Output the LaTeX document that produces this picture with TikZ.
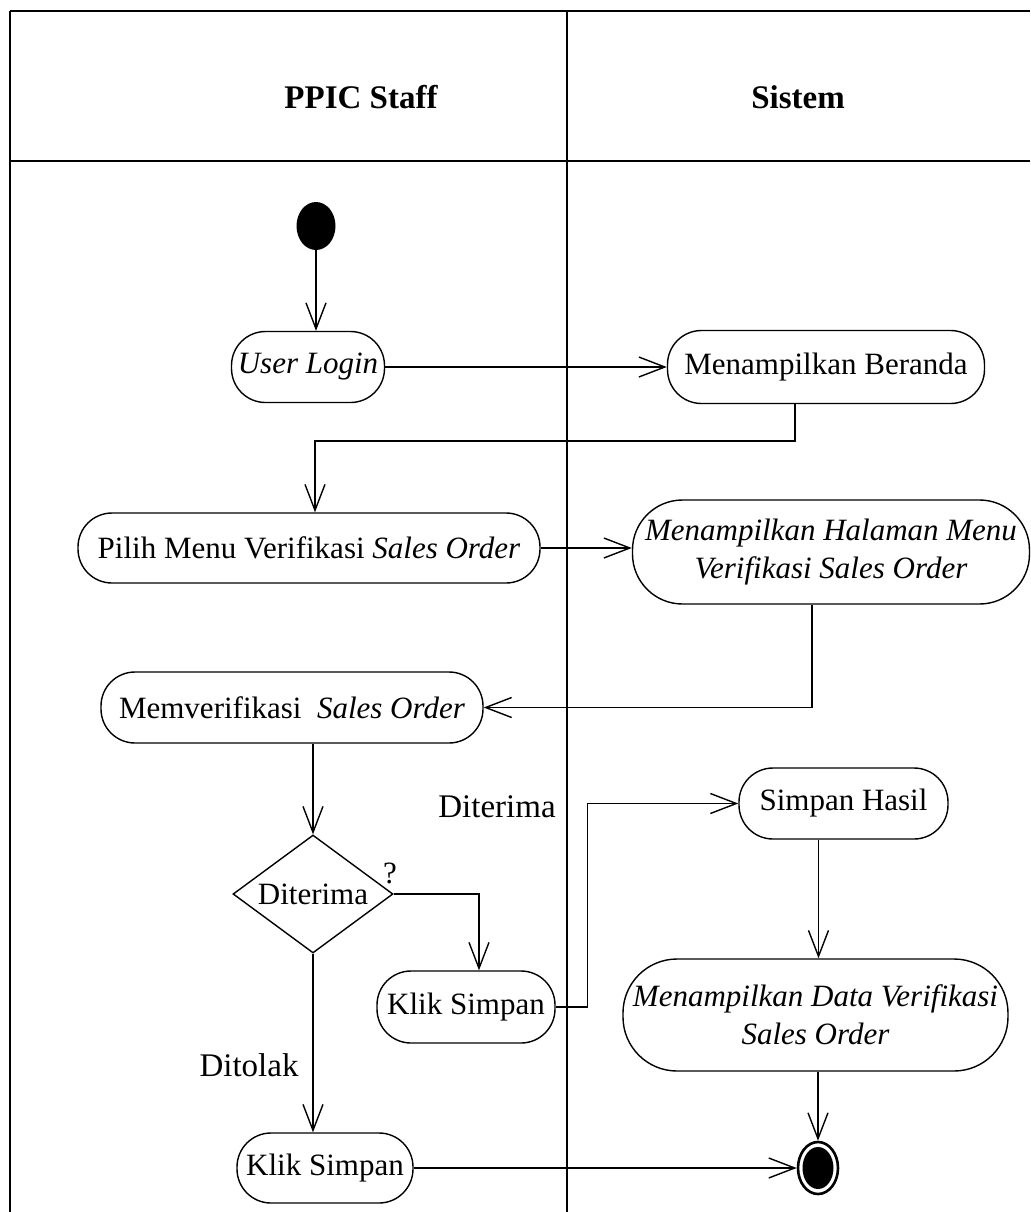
\documentclass[tikz,border=0pt]{standalone}
\usepackage{fontspec}
\setmainfont{Liberation Serif}
\usetikzlibrary{arrows.meta, shapes.geometric, positioning}

\tikzset{
  activity/.style={draw, rectangle, rounded corners=17pt, inner sep=0pt, align=center, line width=0.7pt},
  decision/.style={draw, diamond, aspect=1.35, inner sep=0pt, line width=0.7pt, minimum width=80pt, minimum height=59pt},
  flow/.style={-{Straight Barb[length=13pt,width=10pt]}, line width=0.7pt},
  lane/.style={line width=1pt},
  guard/.style={font=\fontsize{16.5pt}{19pt}\selectfont},
}

\begin{document}
\begin{tikzpicture}[x=0.5pt, y=-0.5pt, font=\fontsize{15.5pt}{19pt}\selectfont]
    \useasboundingbox (0,0) rectangle (1030,1212);

    % Swimlanes
    \draw[lane] (10,11) -- (1030,11);
    \draw[lane] (10,161) -- (1030,161);
    \draw[lane] (10,11) -- (10,1212);
    \draw[lane] (567,11) -- (567,1212);
    \node[font=\bfseries\fontsize{16.5pt}{19pt}\selectfont] (staff) at (361,97) {PPIC Staff};
    \node[font=\bfseries\fontsize{16.5pt}{19pt}\selectfont] (sistem) at (798,97) {Sistem};

    % Activities
    \node[ellipse, fill, minimum width=19.5pt, minimum height=24pt, inner sep=0pt] (start) at (316,226) {};
    \node[activity, minimum width=76.5pt, minimum height=35.5pt] (login) at (308,367) {\textit{User Login}};
    \node[activity, minimum width=158.5pt, minimum height=36.5pt] (beranda) at (826,367) {Menampilkan Beranda};
    \node[activity, minimum width=231pt, minimum height=35pt, rounded corners=17pt] (pilih) at (309,548) {Pilih Menu Verifikasi \textit{Sales Order}};
    \node[activity, minimum width=198.5pt, minimum height=52pt, rounded corners=25pt] (halaman) at (831,552) {\textit{Menampilkan Halaman Menu}\\\textit{Verifikasi Sales Order}};
    \node[activity, minimum width=191pt, minimum height=35.5pt] (verifikasi) at (292,707.5) {Memverifikasi\ \ \textit{Sales Order}};
    \node[decision] (cek) at (313,894) {Diterima};
    \node[activity, minimum width=89pt, minimum height=36pt] (klik1) at (466,1007) {Klik Simpan};
    \node[activity, minimum width=104.5pt, minimum height=35.5pt] (simpan) at (843.5,803.5) {Simpan Hasil};
    \node[activity, minimum width=192.5pt, minimum height=56pt, rounded corners=27pt] (data) at (815.5,1015) {\textit{Menampilkan Data Verifikasi}\\\textit{Sales Order}};
    \node[activity, minimum width=88pt, minimum height=35pt] (klik2) at (325,1168) {Klik Simpan};
    \node[ellipse, draw, line width=1.3pt, minimum width=20pt, minimum height=26pt, inner sep=0pt] (akhir) at (818,1168) {};
    \fill (akhir.center) ellipse (7.75pt and 10.5pt);

    % Guard labels
    \node (tanya) at (390,873) {?};
    \node[guard] (lblya) at (497,807) {Diterima};
    \node[guard] (lbltidak) at (249,1065) {Ditolak};

    % Flows
    \coordinate (belok1) at (315,441);
    \draw[flow] (start) -- (start |- login.north);
    \draw[flow] (login.east) -- (beranda.west);
    \draw[flow] ([xshift=-15.5pt]beranda.south) |- (belok1) -- (belok1 |- pilih.north);
    \draw[flow] (pilih.east) -- (pilih.east -| halaman.west);
    \draw[flow] ([xshift=-9.5pt]halaman.south) |- (verifikasi.east);
    \draw[flow] (verifikasi.south -| cek.north) -- (cek.north);
    \draw[flow] (cek.east) -| ([xshift=6.5pt]klik1.north);
    \draw[flow] (klik1.east) -- ++(16pt,0) |- (simpan.west);
    \draw[flow] ([xshift=-12.5pt]simpan.south) -- ([xshift=-12.5pt]simpan.south |- data.north);
    \draw[flow] (akhir |- data.south) -- (akhir.north);
    \draw[flow] (cek.south) -- (cek.south |- klik2.north);
    \draw[flow] (klik2.east) -- (akhir.west);
\end{tikzpicture}
\end{document}
